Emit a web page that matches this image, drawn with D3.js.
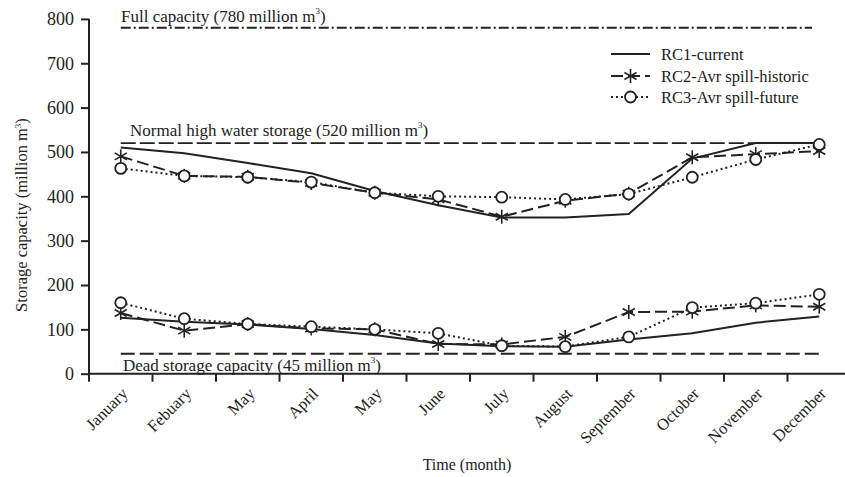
<!DOCTYPE html>
<html><head><meta charset="utf-8">
<script src="https://cdn.jsdelivr.net/npm/d3@7"></script>
<style>body{margin:0;background:#fff}svg{display:block;font-family:"Liberation Serif","Times New Roman",serif}</style>
</head><body>
<script>
const months = ["January","Febuary","May","April","May","June","July","August","September","October","November","December"];
const yTicks = [0,100,200,300,400,500,600,700,800];
const rc1Upper = [510,497,475,452,412,380,352,352,360,485,520,520];
const rc1Lower = [126,117,111,101,87,68,62,61,77,91,115,129];
const rc2Upper = [490,446,444,430,408,393,354,390,406,488,495,502];
const rc2Lower = [137,97,112,102,100,67,66,83,139,140,154,151];
const rc3Upper = [463,446,443,432,408,400,398,393,405,443,483,517];
const rc3Lower = [160,124,112,106,100,91,63,61,83,149,159,179];
const refValues = [780,520,45];
const refLabels = ["Full capacity (780 million m","Normal high water storage (520 million m","Dead storage capacity (45 million m"];
const legendLabels = ["RC1-current","RC2-Avr spill-historic","RC3-Avr spill-future"];

const W=845,H=477;
const svg=d3.select("body").append("svg").attr("width",W).attr("height",H);
const idx=d3.range(12);
const x=d3.scaleBand().domain(idx).range([89,851]).paddingInner(0).paddingOuter(0);
const y=d3.scaleLinear().domain([0,800]).range([373.7,18.9]);
const cx=i=>x(i)+x.bandwidth()/2;

// axes
const yAxis=svg.append("g").attr("transform","translate(89,0)")
  .call(d3.axisLeft(y).tickValues(yTicks).tickSize(8).tickPadding(7));
yAxis.attr("font-family",null);
yAxis.select(".domain").attr("stroke","#222").attr("stroke-width",2).attr("d","M0,"+y(800)+"V"+(y(0)+1));
yAxis.selectAll(".tick line").attr("stroke","#222").attr("stroke-width",2);
yAxis.selectAll(".tick text").attr("font-size",18).attr("fill","#222").attr("font-family","Liberation Serif");

const xAxisG=svg.append("g").attr("transform","translate(0,"+y(0)+")");
xAxisG.append("line").attr("x1",88).attr("x2",W).attr("y1",0).attr("y2",0).attr("stroke","#222").attr("stroke-width",2);
xAxisG.selectAll("line.tk").data(d3.range(13)).join("line").attr("class","tk")
  .attr("x1",i=>i<12?x(i):x(11)+x.bandwidth()).attr("x2",i=>i<12?x(i):x(11)+x.bandwidth())
  .attr("y1",0).attr("y2",8).attr("stroke","#222").attr("stroke-width",2);
xAxisG.selectAll("text.lb").data(idx).join("text").attr("class","lb")
  .attr("transform",i=>"translate("+(cx(i)+8)+",21) rotate(-45)")
  .attr("text-anchor","end").attr("font-size",16.5).attr("fill","#222").text(i=>months[i]);

// axis titles
svg.append("text").attr("x",467).attr("y",470).attr("text-anchor","middle").attr("font-size",16).attr("fill","#222").text("Time (month)");
const yt=svg.append("text").attr("transform","translate(27,215) rotate(-90)").attr("text-anchor","middle").attr("font-size",16.5).attr("fill","#222");
yt.append("tspan").text("Storage capacity (million m");
yt.append("tspan").attr("dy",-6).attr("font-size",9).text("3");
yt.append("tspan").attr("dy",6).text(")");

// reference lines
const refDash=["10,3,2,3","15,4","14,5"];
const refEnd=[812,821,821];
refValues.forEach((v,k)=>{
  svg.append("line").attr("x1",cx(0)).attr("x2",refEnd[k]).attr("y1",y(v)).attr("y2",y(v))
    .attr("stroke","#222").attr("stroke-width",1.8).attr("stroke-dasharray",refDash[k]);
});
const refPos=[[121,y(780)-6],[130,y(520)-7],[123,y(45)+17]];
refLabels.forEach((t,k)=>{
  const tx=svg.append("text").attr("x",refPos[k][0]).attr("y",refPos[k][1]).attr("font-size",17).attr("fill","#222");
  tx.append("tspan").text(t);
  tx.append("tspan").attr("dy",-8).attr("font-size",9).text("3");
  tx.append("tspan").attr("dy",8).text(")");
});

// series
const line=d3.line().x((d,i)=>cx(i)).y(d=>y(d));
const styles=[{dash:null,w:2},{dash:"12,5",w:2},{dash:"2,3",w:2}];
const seriesSets=[[rc1Upper,rc1Lower],[rc2Upper,rc2Lower],[rc3Upper,rc3Lower]];
seriesSets.forEach((set,k)=>{
  set.forEach(arr=>{
    svg.append("path").datum(arr).attr("d",line).attr("fill","none").attr("stroke","#222")
      .attr("stroke-width",styles[k].w).attr("stroke-dasharray",styles[k].dash);
  });
});
function star(g,px,py){
  const r=7;
  [90,30,-30].forEach(a=>{
    const rad=a*Math.PI/180;
    g.append("line").attr("x1",px-r*Math.cos(rad)).attr("y1",py-r*Math.sin(rad))
      .attr("x2",px+r*Math.cos(rad)).attr("y2",py+r*Math.sin(rad)).attr("stroke","#222").attr("stroke-width",1.6);
  });
}
function circ(g,px,py){
  g.append("circle").attr("cx",px).attr("cy",py).attr("r",5.5).attr("fill","#fff").attr("stroke","#222").attr("stroke-width",1.8);
}
const mk=svg.append("g");
[rc2Upper,rc2Lower].forEach(arr=>arr.forEach((v,i)=>star(mk,cx(i),y(v))));
[rc3Upper,rc3Lower].forEach(arr=>arr.forEach((v,i)=>circ(mk,cx(i),y(v))));

// legend
const lg=svg.append("g");
const ly=[54,76,97];
legendLabels.forEach((t,k)=>{
  lg.append("line").attr("x1",611).attr("x2",650).attr("y1",ly[k]).attr("y2",ly[k]).attr("stroke","#222")
    .attr("stroke-width",2).attr("stroke-dasharray",styles[k].dash);
  if(k===1) star(lg,630.5,ly[k]);
  if(k===2) circ(lg,630.5,ly[k]);
  lg.append("text").attr("x",661).attr("y",ly[k]+5.5).attr("font-size",16.5).attr("fill","#222").text(t);
});
</script>
</body></html>
